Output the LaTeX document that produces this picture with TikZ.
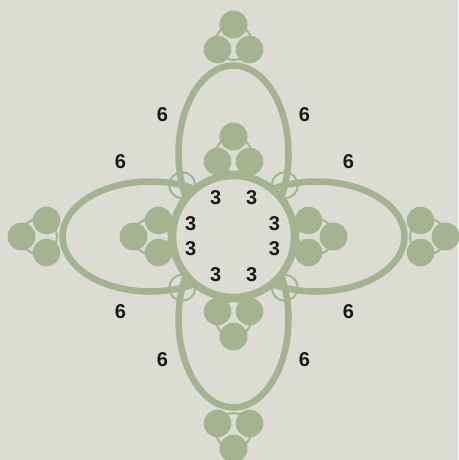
\documentclass[tikz,border=0pt]{standalone}
\usepackage{fontspec}
\setmainfont{Liberation Sans}
\definecolor{bg}{RGB}{220,220,213}
\definecolor{gr}{RGB}{164,178,143}
\definecolor{ink}{RGB}{25,25,25}
\begin{document}
\begin{tikzpicture}[x=1pt,y=-1pt,
  thinring/.style={draw=gr,line width=2pt},
  loop/.style={draw=gr,line width=6.5pt},
  bead/.style={fill=gr},
  hub/.style={draw=gr,fill=bg,line width=7.5pt},
  lbl/.style={text=ink,font=\fontsize{20}{20}\selectfont\bfseries,inner sep=0pt}]
\fill[bg] (0,0) rectangle (458,460);
\useasboundingbox (0,0) rectangle (458,460);
\begin{scope}[shift={(233.5,236.5)}]
  % thin rings of the bead triplets
  \foreach \a in {0,90,180,270} {
    \begin{scope}[rotate=\a]
      \draw[thinring] (82.4,0) circle[radius=17.8];
      \draw[thinring] (194.4,0) circle[radius=17.8];
    \end{scope}
  }
  % thin rings at the crossings
  \foreach \a in {45,135,225,315}
    \draw[thinring] (\a:72.5) circle[radius=13];
  % loops
  \foreach \a in {0,90,180,270}
    \draw[loop,rotate=\a] (83,0) ellipse[x radius=88,y radius=55];
  % beads
  \foreach \a in {0,90,180,270} {
    \begin{scope}[rotate=\a]
      \fill[bead] (100,0) circle[radius=14];
      \fill[bead] (75,16) circle[radius=13.8];
      \fill[bead] (75,-16) circle[radius=13.8];
      \fill[bead] (212,0) circle[radius=14];
      \fill[bead] (187,16) circle[radius=13.8];
      \fill[bead] (187,-16) circle[radius=13.8];
    \end{scope}
  }
  % hub
  \draw[hub] (0,0) circle[radius=61];
\end{scope}
% labels 6
\node[lbl] (s1) at (162.5,115) {6};
\node[lbl] (s2) at (304.5,115) {6};
\node[lbl] (s3) at (120.5,162) {6};
\node[lbl] (s4) at (348.5,162) {6};
\node[lbl] (s5) at (120.5,312) {6};
\node[lbl] (s6) at (348.5,312) {6};
\node[lbl] (s7) at (162.5,360) {6};
\node[lbl] (s8) at (304.5,360) {6};
% labels 3
\node[lbl] (t1) at (215.7,198) {3};
\node[lbl] (t2) at (251.7,198) {3};
\node[lbl] (t3) at (190.7,224) {3};
\node[lbl] (t4) at (274.5,224) {3};
\node[lbl] (t5) at (190.7,249) {3};
\node[lbl] (t6) at (274.5,249) {3};
\node[lbl] (t7) at (215.7,275) {3};
\node[lbl] (t8) at (251.7,275) {3};
\end{tikzpicture}
\end{document}
